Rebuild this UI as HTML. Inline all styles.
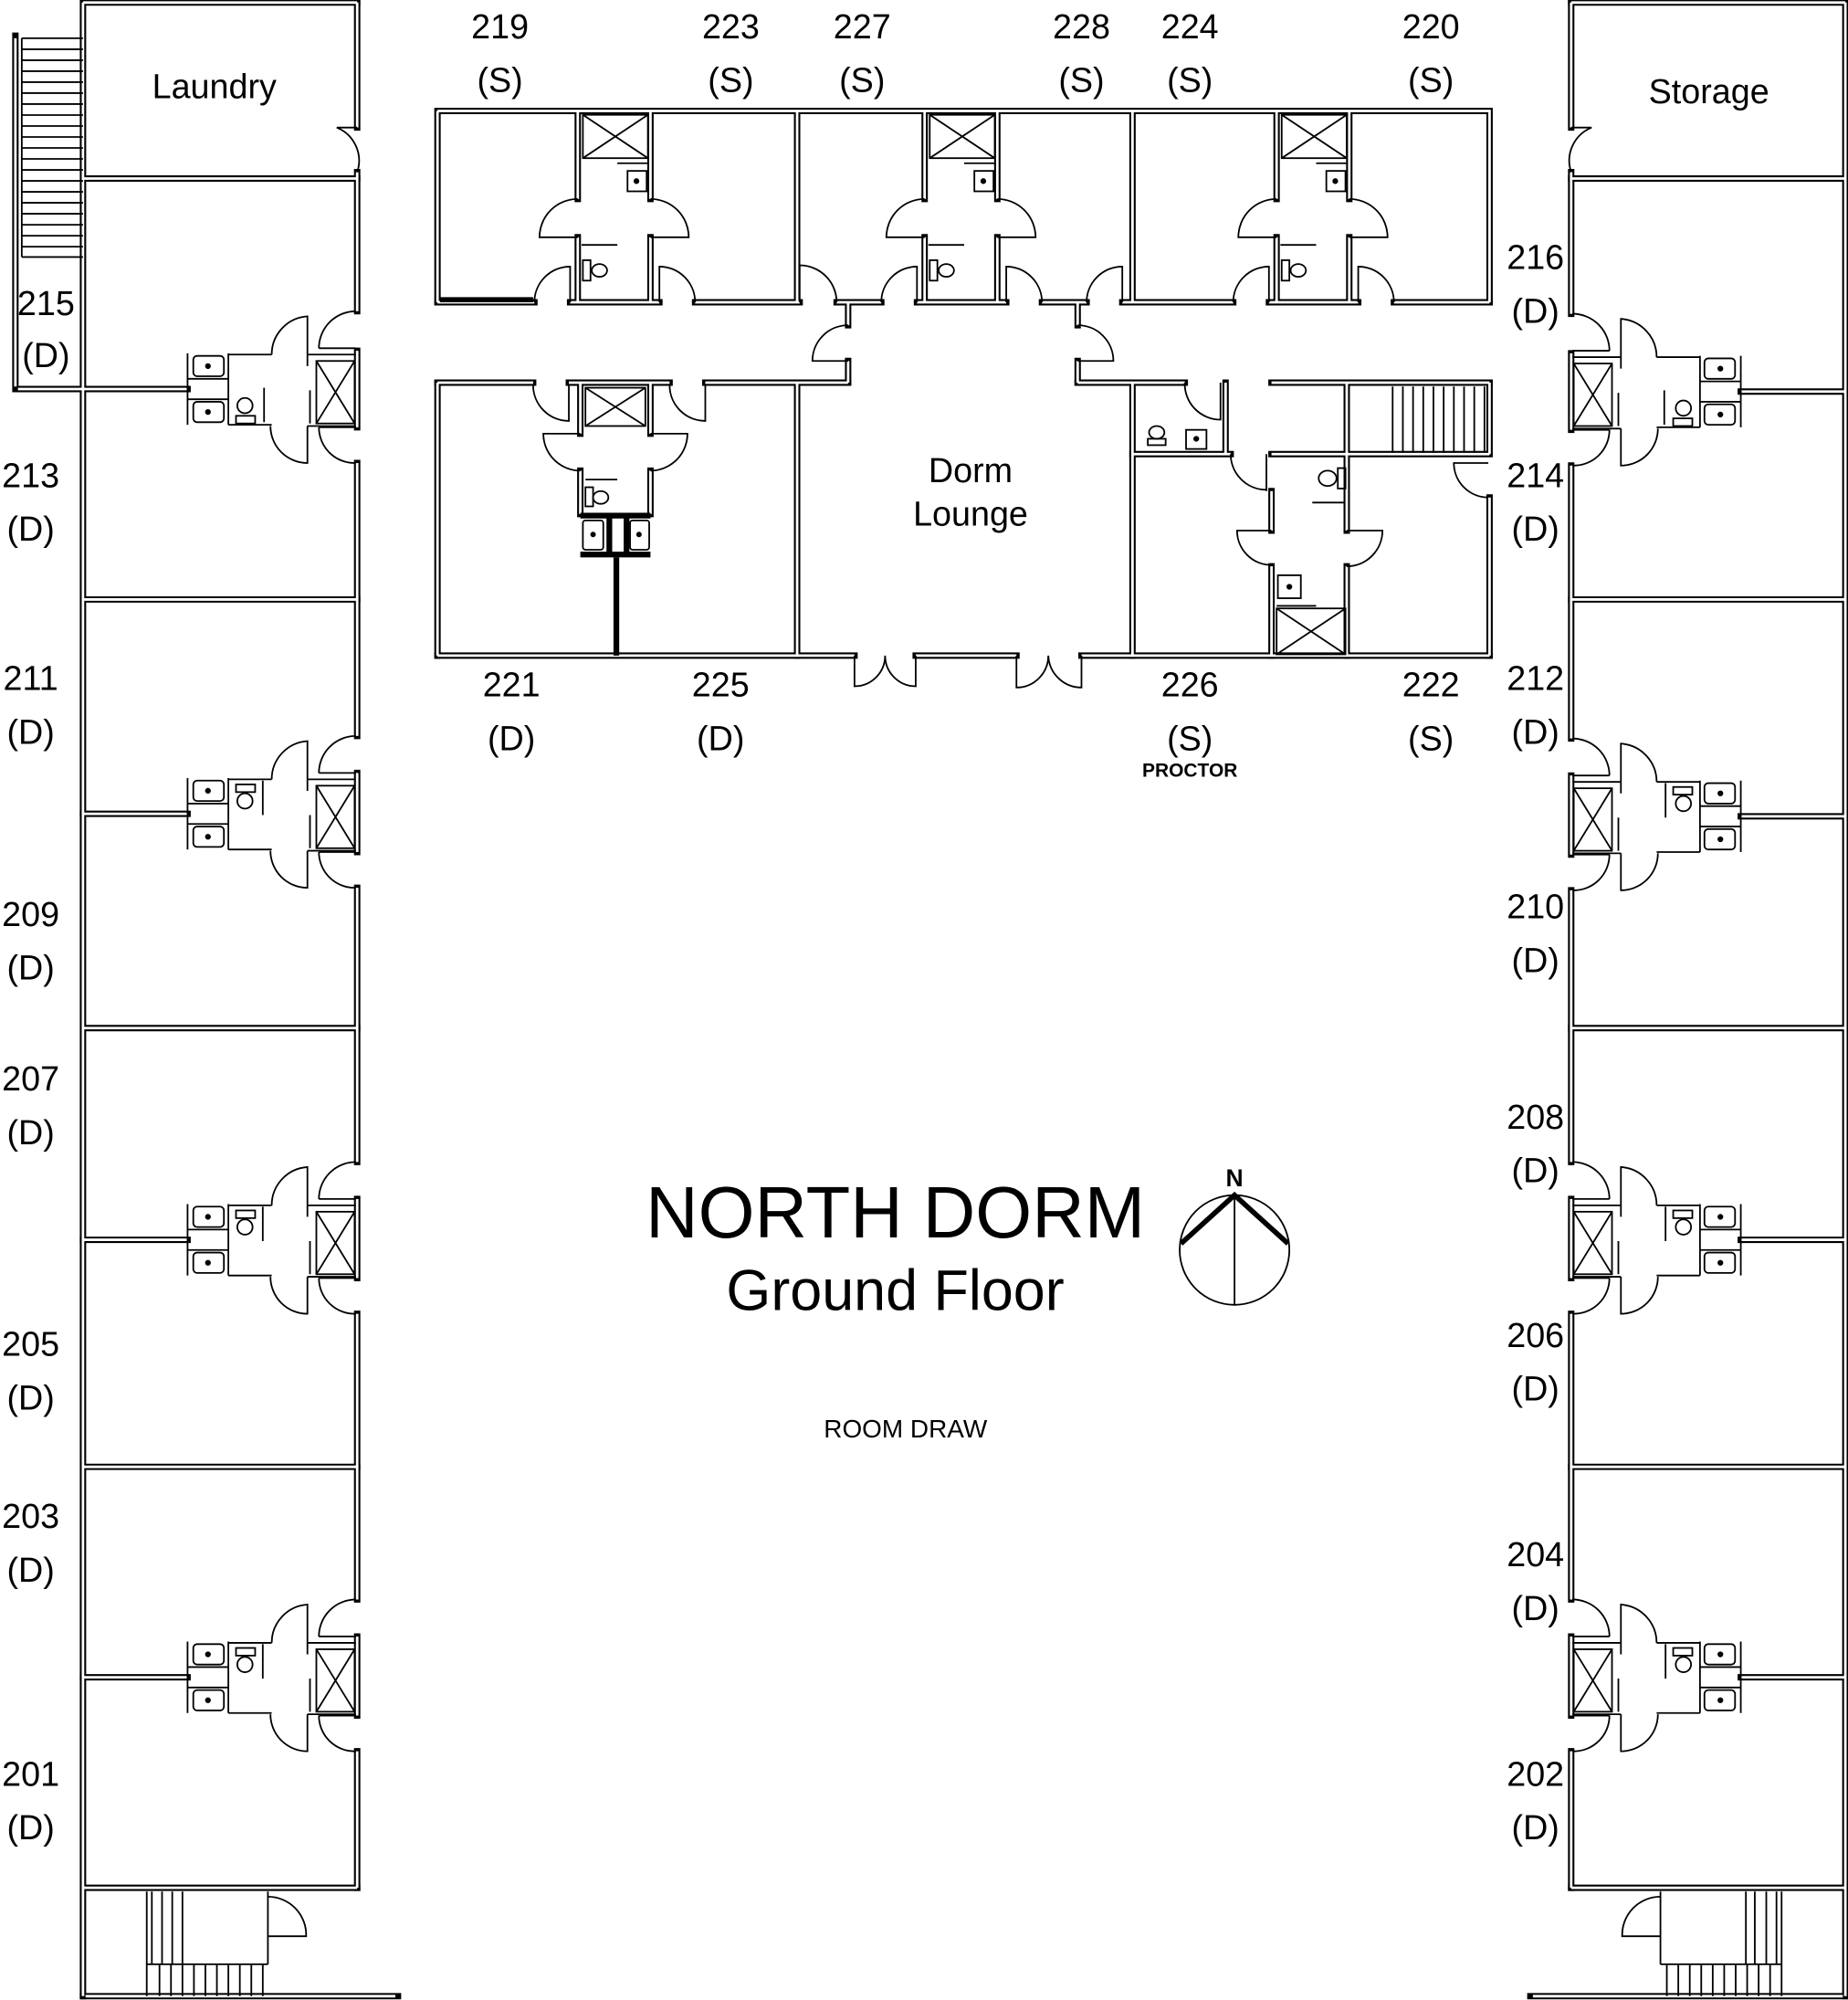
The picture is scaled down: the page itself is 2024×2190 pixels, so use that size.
<!DOCTYPE html>
<html><head><meta charset="utf-8"><style>
html,body{margin:0;padding:0;background:#fff}
svg{display:block}
text{font-family:"Liberation Sans",sans-serif;fill:#000}
</style></head><body>
<svg xmlns="http://www.w3.org/2000/svg" xmlns:xlink="http://www.w3.org/1999/xlink" width="2024" height="2190" viewBox="0 0 1449 1568">
<defs>
<g id="fxb" fill="none" stroke="#000" stroke-width="1.3">
  <path d="M147 -28 V28 M179 -28 V28 M147 -8 H179 M147 8 H179"/>
  <rect x="151.5" y="-26" width="24" height="16" rx="3"/>
  <rect x="151.5" y="10" width="24" height="16" rx="3"/>
  <circle cx="163" cy="-18" r="1.6" fill="#000"/>
  <circle cx="163" cy="18" r="1.6" fill="#000"/>
  <path d="M179 -27 H213 M179 28 H213"/>
  <path d="M241 -27 V-57 A30 30 0 0 0 213 -27"/>
  <path d="M241 29 V58 A29 29 0 0 1 212 29"/>
  <path d="M241 -27 V-18 M241 -27 H279 M241 29 H279 M243 1 V27"/>
  <rect x="248" y="-22" width="30" height="49"/>
  <path d="M248 -22 L278 27 M278 -22 L248 27"/>
  <path d="M250 -32 H279 M250 -32 A29 29 0 0 1 279 -61"/>
  <path d="M250 30 H279 M250 30 A28 28 0 0 0 279 58"/>
</g>
<g id="fxT" fill="none" stroke="#000" stroke-width="1.3">
  <use xlink:href="#fxb"/>
  <rect x="185" y="-23" width="15" height="6"/>
  <ellipse cx="192" cy="-10" rx="6" ry="6"/>
  <path d="M206 -26 V1"/>
</g>
<g id="fxB" fill="none" stroke="#000" stroke-width="1.3">
  <use xlink:href="#fxb"/>
  <rect x="185" y="21" width="15" height="6"/>
  <ellipse cx="192" cy="13" rx="6" ry="6"/>
  <path d="M207 -1 V26"/>
</g>
<g id="wingL" fill="none">
  <path d="M65 2 V1565 M65 2 H280 M65 140 H280 M65 470 H280 M65 806 H280 M65 1150 H280 M65 1480 H280"/>
  <path d="M280 2 V100 M280 135 V244 M280 275 V335 M280 363 V577 M280 606 V668 M280 696 V911 M280 940 V1002 M280 1030 V1254 M280 1283 V1345 M280 1373 V1480"/>
  <path d="M65 638 H147 M65 972 H147 M65 1315 H147"/>
</g>
<g id="wingR" fill="none">
  <path d="M65 2 V1565 M65 2 H280 M65 140 H280 M65 470 H280 M65 806 H280 M65 1150 H280 M65 1480 H280"/>
  <path d="M280 2 V100 M280 135 V246 M280 277 V337 M280 365 V579 M280 608 V670 M280 698 V911 M280 940 V1002 M280 1030 V1254 M280 1283 V1345 M280 1373 V1480"/>
  <path d="M65 307 H147 M65 640 H147 M65 972 H147 M65 1315 H147"/>
</g>
<g id="topW" fill="none">
  <path d="M343 87 H1168 V237 M343 87 V237"/>
  <path d="M343 237 H419 M447 237 H517 M545 237 H627 M656 237 H691 M719 237 H789 M817 237 H852 M880 237 H967 M995 237 H1065 M1093 237 H1168"/>
  <path d="M453 87 V156 M453 186 V237 M510 87 V156 M510 186 V237 M625 87 V237"/>
  <path d="M725 87 V156 M725 186 V237 M782 87 V156 M782 186 V237 M888 87 V237"/>
  <path d="M1001 87 V156 M1001 186 V237 M1058 87 V156 M1058 186 V237"/>
  <path d="M665 237 V255 M665 283 V300 M845 237 V255 M845 283 V300"/>
  <path d="M343 300 H418 M446 300 H525 M553 300 H665 M845 300 H929 M997 300 H1168"/>
  <path d="M343 300 V514 M455 300 V340 M455 369 V403 M510 300 V340 M510 369 V403 M625 300 V514 M888 300 V514"/>
  <path d="M343 514 H670 M718 514 H797 M848 514 H1168"/>
  <path d="M961 300 V356 M888 356 H965 M997 356 H1168 M997 385 V416 M997 444 V514 M1056 300 V416 M1056 444 V514 M1168 300 V356 M1168 390 V514"/>
</g>
</defs>

<!-- walls -->
<g stroke="#000" stroke-width="5" stroke-linecap="square">
  <use xlink:href="#wingL"/>
  <use xlink:href="#wingR" transform="translate(1512,0) scale(-1,1)"/>
  <use xlink:href="#topW"/>
  <path d="M12 305 H147 M12 28 V305" fill="none"/>
  <path d="M65 1565 H312 M1200 1565 H1447" fill="none"/>
</g>
<g stroke="#fff" stroke-width="2">
  <use xlink:href="#wingL"/>
  <use xlink:href="#wingR" transform="translate(1512,0) scale(-1,1)"/>
  <use xlink:href="#topW"/>
  <path d="M14 305 H147 M12 30 V303" fill="none"/>
  <path d="M67 1565 H310 M1202 1565 H1445" fill="none"/>
</g>
<path d="M345 235 H418" stroke="#000" stroke-width="4"/>
<!-- 221/225 vanity -->
<rect x="455" y="402" width="55" height="4.5" fill="#000"/>
<rect x="455" y="432.5" width="55" height="4.5" fill="#000"/>
<rect x="475.5" y="406" width="4.5" height="27" fill="#000"/>
<rect x="489" y="406" width="4.5" height="27" fill="#000"/>
<rect x="481" y="437" width="4.5" height="77" fill="#000"/>

<!-- wing fixtures -->
<use xlink:href="#fxB" transform="translate(0,305)"/>
<use xlink:href="#fxT" transform="translate(0,638)"/>
<use xlink:href="#fxT" transform="translate(0,972)"/>
<use xlink:href="#fxT" transform="translate(0,1315)"/>
<g transform="translate(1512,0) scale(-1,1)">
  <use xlink:href="#fxB" transform="translate(0,307)"/>
  <use xlink:href="#fxT" transform="translate(0,640)"/>
  <use xlink:href="#fxT" transform="translate(0,972)"/>
  <use xlink:href="#fxT" transform="translate(0,1315)"/>
</g>

<g fill="none" stroke="#000" stroke-width="1.3">
  <!-- laundry / storage doors -->
  <path d="M280 100 H264 A28 28 0 0 1 280 135"/>
  <path d="M1232 100 H1248 A28 28 0 0 0 1232 135"/>
  <!-- left stair -->
  <path d="M17 30 H65 M17 38.6 H65 M17 47.2 H65 M17 55.8 H65 M17 64.4 H65 M17 73 H65 M17 81.6 H65 M17 90.2 H65 M17 98.8 H65 M17 107.4 H65 M17 116 H65 M17 124.6 H65 M17 133.2 H65 M17 141.8 H65 M17 150.4 H65 M17 159 H65 M17 167.6 H65 M17 176.2 H65 M17 184.8 H65 M17 193.4 H65 M17 201.5 H65 M17 30 V201.5"/>
  <!-- bottom-left stair -->
  <path d="M115 1483 V1565 M210 1483 V1540 M115 1540 H210 M143 1483 V1540"/>
  <path d="M119 1483 V1540 M127 1483 V1540 M135 1483 V1540"/>
  <path d="M125 1540 V1565 M134 1540 V1565 M143 1540 V1565 M152 1540 V1565 M161 1540 V1565 M170 1540 V1565 M179 1540 V1565 M188 1540 V1565 M197 1540 V1565 M206 1540 V1565"/>
  <path d="M210 1487 A30 30 0 0 1 240 1518 H210"/>
  <!-- bottom-right stair -->
  <path d="M1397 1483 V1565 M1302 1483 V1540 M1302 1540 H1397 M1369 1483 V1540"/>
  <path d="M1376 1483 V1540 M1385 1483 V1540 M1393 1483 V1540"/>
  <path d="M1307 1540 V1565 M1316 1540 V1565 M1325 1540 V1565 M1334 1540 V1565 M1343 1540 V1565 M1352 1540 V1565 M1361 1540 V1565 M1370 1540 V1565 M1379 1540 V1565 M1388 1540 V1565"/>
  <path d="M1302 1487 A30 30 0 0 0 1272 1518 H1302"/>

  <!-- top row bathrooms -->
  <g id="tb">
    <rect x="457" y="90" width="51" height="34"/><path d="M457 90 L508 124 M508 90 L457 124"/>
    <path d="M484 128 H508"/>
    <rect x="492" y="134" width="15" height="16"/><circle cx="499" cy="142" r="1.6" fill="#000"/>
    <path d="M453 186 H423 A30 30 0 0 1 453 156"/>
    <path d="M510 186 H540 A30 30 0 0 0 510 156"/>
    <path d="M456 192 H484"/>
    <rect x="457" y="204" width="6" height="16"/><ellipse cx="470" cy="212" rx="6" ry="5"/>
    <path d="M447 237 V209 A28 28 0 0 0 419 237"/>
    <path d="M517 237 V209 A28 28 0 0 1 545 237"/>
  </g>
  <use xlink:href="#tb" transform="translate(272,0)"/>
  <use xlink:href="#tb" transform="translate(548,0)"/>
  <path d="M627 237 V208 A29 29 0 0 1 656 237"/>
  <path d="M880 237 V209 A28 28 0 0 0 852 237"/>
  <!-- corridor doors -->
  <path d="M665 255 A28 28 0 0 0 637 283 H665"/>
  <path d="M845 255 A28 28 0 0 1 873 283 H845"/>
  <!-- 221/225 bathroom -->
  <rect x="459" y="304" width="47" height="30"/><path d="M459 304 L506 334 M506 304 L459 334"/>
  <path d="M446 302 V330 A28 28 0 0 1 418 302"/>
  <path d="M553 302 V330 A28 28 0 0 1 525 302"/>
  <path d="M455 340 H426 A29 29 0 0 0 455 369"/>
  <path d="M510 340 H539 A29 29 0 0 1 510 369"/>
  <path d="M459 376 H484"/>
  <rect x="459" y="382" width="6" height="15"/><ellipse cx="471" cy="390" rx="6" ry="5"/>
  <rect x="457" y="408" width="16" height="23" rx="2"/><rect x="494" y="408" width="15" height="23" rx="2"/>
  <circle cx="465" cy="419" r="1.5" fill="#000"/><circle cx="501" cy="419" r="1.5" fill="#000"/>
  <!-- lounge doors -->
  <path d="M670 514 V538 A24 24 0 0 0 694 514 M718 514 V538 A24 24 0 0 1 694 514"/>
  <path d="M797 514 V539 A25 25 0 0 0 822 514 M848 514 V539 A26 26 0 0 1 822 514"/>
  <!-- east block fixtures -->
  <path d="M957 300 V329 A28 28 0 0 1 929 300"/>
  <ellipse cx="907" cy="339" rx="6" ry="5"/><rect x="900" y="344" width="14" height="5"/>
  <rect x="930" y="337" width="16" height="15"/><circle cx="938" cy="344" r="1.6" fill="#000"/>
  <path d="M993 356 V385 M965 356 A28 28 0 0 0 993 384"/>
  <path d="M997 416 H970 A27 27 0 0 0 997 443"/>
  <path d="M1056 416 H1084 A28 28 0 0 1 1056 444"/>
  <ellipse cx="1041" cy="375" rx="7" ry="6"/><rect x="1049" y="367" width="6" height="16"/>
  <path d="M1029 394 H1054"/>
  <rect x="1002" y="451" width="18" height="18"/><circle cx="1011" cy="460" r="1.6" fill="#000"/>
  <path d="M1001 475 H1032"/>
  <rect x="1001" y="477" width="54" height="36"/><path d="M1001 477 L1055 513 M1055 477 L1001 513"/>
  <path d="M1092 303 V355 M1100 303 V355 M1108 303 V355 M1116 303 V355 M1124 303 V355 M1132 303 V355 M1140 303 V355 M1148 303 V355 M1156 303 V355 M1164 303 V355"/>
  <path d="M1167 363 H1140 A27 27 0 0 0 1167 390"/>
  <!-- compass -->
  <circle cx="968" cy="980" r="43"/>
  <line x1="968" y1="937" x2="968" y2="1023"/>
</g>
<path d="M926 975 L968 937 L1010 975" fill="none" stroke="#000" stroke-width="4"/>

<!-- labels -->
<g font-size="27" text-anchor="middle">
  <text x="392" y="30">219</text><text x="392" y="72">(S)</text>
  <text x="573" y="30">223</text><text x="573" y="72">(S)</text>
  <text x="676" y="30">227</text><text x="676" y="72">(S)</text>
  <text x="848" y="30">228</text><text x="848" y="72">(S)</text>
  <text x="933" y="30">224</text><text x="933" y="72">(S)</text>
  <text x="1122" y="30">220</text><text x="1122" y="72">(S)</text>
  <text x="401" y="546">221</text><text x="401" y="588">(D)</text>
  <text x="565" y="546">225</text><text x="565" y="588">(D)</text>
  <text x="933" y="546">226</text><text x="933" y="588">(S)</text>
  <text x="1122" y="546">222</text><text x="1122" y="588">(S)</text>
  <text x="36" y="247">215</text><text x="36" y="288">(D)</text>
  <text x="24" y="382">213</text><text x="24" y="424">(D)</text>
  <text x="24" y="541">211</text><text x="24" y="583">(D)</text>
  <text x="24" y="726">209</text><text x="24" y="768">(D)</text>
  <text x="24" y="855">207</text><text x="24" y="897">(D)</text>
  <text x="24" y="1063">205</text><text x="24" y="1105">(D)</text>
  <text x="24" y="1198">203</text><text x="24" y="1240">(D)</text>
  <text x="24" y="1400">201</text><text x="24" y="1442">(D)</text>
  <text x="1204" y="211">216</text><text x="1204" y="253">(D)</text>
  <text x="1204" y="382">214</text><text x="1204" y="424">(D)</text>
  <text x="1204" y="541">212</text><text x="1204" y="583">(D)</text>
  <text x="1204" y="720">210</text><text x="1204" y="762">(D)</text>
  <text x="1204" y="885">208</text><text x="1204" y="927">(D)</text>
  <text x="1204" y="1056">206</text><text x="1204" y="1098">(D)</text>
  <text x="1204" y="1228">204</text><text x="1204" y="1270">(D)</text>
  <text x="1204" y="1400">202</text><text x="1204" y="1442">(D)</text>
  <text x="168" y="77">Laundry</text>
  <text x="1340" y="81">Storage</text>
  <text x="761" y="378">Dorm</text><text x="761" y="412">Lounge</text>
</g>
<text x="933" y="609" font-size="15" font-weight="bold" text-anchor="middle">PROCTOR</text>
<text x="702" y="970" font-size="57" text-anchor="middle">NORTH DORM</text>
<text x="702" y="1027" font-size="45" text-anchor="middle">Ground Floor</text>
<text x="710" y="1127" font-size="20" text-anchor="middle">ROOM DRAW</text>
<text x="968" y="930" font-size="19" font-weight="bold" text-anchor="middle">N</text>
</svg>
</body></html>
